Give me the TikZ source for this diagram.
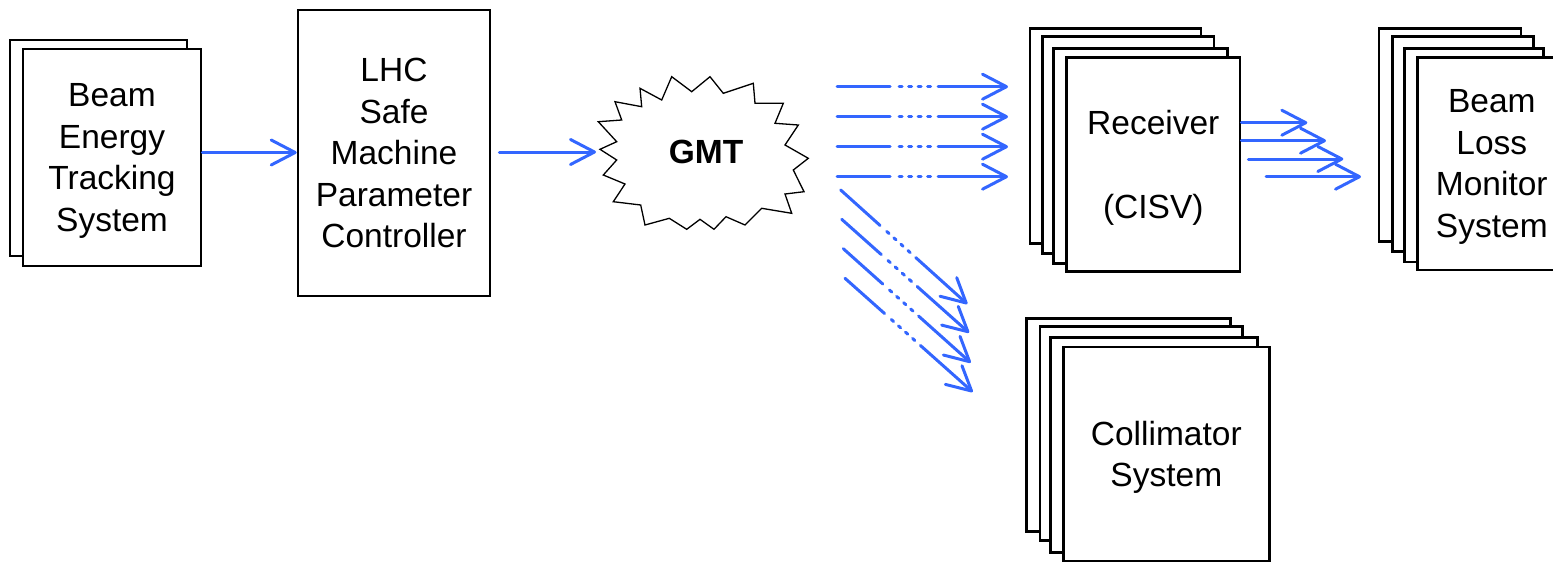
\documentclass[tikz,border=0pt]{standalone}
\usepackage{fontspec}
\setmainfont{Liberation Sans}
\usetikzlibrary{arrows.meta}
\definecolor{arrowblue}{RGB}{51,102,255}
\begin{document}
\begin{tikzpicture}[x=1pt,y=-1pt,
 card/.style={draw=black, line width=2.6pt, fill=white, inner sep=0pt, align=center,
   text depth=0pt, font=\fontsize{33.5}{41.5}\selectfont},
 flow/.style={draw=arrowblue, line width=3pt, line cap=round,
   -{Straight Barb[length=24pt,width=25pt,round]}},
 dotflow/.style={flow, dash pattern=on 53pt off 9pt on 3pt off 6.5pt on 3pt off 6.5pt on 3pt off 6.5pt on 3pt off 7.5pt on 300pt},
]
\useasboundingbox (0,0) rectangle (1553,563);
\clip (0,0) rectangle (1553,563);

% Beam Energy Tracking System
\node[card, minimum width=177pt, minimum height=216pt] (bets1) at (98.5,148) {};
\node[card, minimum width=178pt, minimum height=217pt] (bets) at (112,157.5) {Beam\\Energy\\Tracking\\System};

% LHC SMPC
\node[card, minimum width=192pt, minimum height=286pt] (lhc) at (394,153) {LHC\\Safe\\Machine\\Parameter\\Controller};

% GMT starburst
\draw[line width=1.3pt, fill=white]
 (600,149.3) -- (616.7,141.7) -- (598.3,121.7) -- (621.7,120) -- (615,101.7) -- (641.7,106.7)
 -- (640,88.3) -- (661.7,100) -- (671.7,76.7) -- (691.7,91.7) -- (710,76.7) -- (723.3,93.3)
 -- (753.3,83.3) -- (755,103.3) -- (783.3,103.3) -- (775,123.3) -- (798.3,125) -- (785,145)
 -- (808.3,158.3) -- (793.3,170) -- (804,191.7) -- (785,194) -- (791.7,213.3) -- (761.7,208.3)
 -- (745,225) -- (726,216.7) -- (714,229.3) -- (700,219.3) -- (686.7,229.3) -- (669.3,218.3)
 -- (645,225) -- (640.7,205) -- (613.3,201.7) -- (625,184) -- (603.3,175) -- (616.7,160) -- cycle;
\node[font=\bfseries\fontsize{33.5}{40}\selectfont, inner sep=0pt] (gmt) at (706,151.5) {GMT};
\coordinate (gmtin) at (596,152);

% Receiver stack
\node[card, minimum width=171pt, minimum height=215pt] (rx1) at (1115.5,135.8) {};
\node[card, minimum width=171.3pt, minimum height=216.6pt] (rx2) at (1128.3,145) {};
\node[card, minimum width=174pt, minimum height=215pt] (rx3) at (1140.3,155.8) {};
\node[card, minimum width=173.3pt, minimum height=214.4pt] (rx) at (1153.3,164.5) {Receiver\\[1.5pt]~\\(CISV)};

% BLM stack
\node[card, minimum width=142pt, minimum height=213.4pt] (bl1) at (1450,135) {};
\node[card, minimum width=141pt, minimum height=215pt] (bl2) at (1462.8,144.2) {};
\node[card, minimum width=139pt, minimum height=213.7pt] (bl3) at (1473.8,155.2) {};
\node[card, minimum width=149pt, minimum height=212.7pt] (blm) at (1491.8,163.7) {Beam\\Loss\\Monitor\\System};

% Collimator stack
\node[card, minimum width=204pt, minimum height=213.4pt] (co1) at (1128.7,425) {};
\node[card, minimum width=202.7pt, minimum height=214pt] (co2) at (1141.3,433.7) {};
\node[card, minimum width=206.6pt, minimum height=215pt] (co3) at (1154,445.2) {};
\node[card, minimum width=206pt, minimum height=214pt] (col) at (1166.3,453.8) {Collimator\\System};

% arrows
\draw[flow] (bets.east |- 0,152.5) -- (lhc.west |- 0,152.5);
\draw[flow] ([shift={(8,-1)}]lhc.east) -- (gmtin);

\foreach \y [count=\i] in {86.7,116.7,146.7,176.7} {
  \coordinate (h\i s) at (837,\y);
  \coordinate (h\i e) at (1008,\y);
  \draw[dotflow] (h\i s) -- (h\i e);
}

\coordinate (d1s) at (840.7,190);   \coordinate (d1e) at (967.3,304);
\coordinate (d2s) at (841.7,219.3); \coordinate (d2e) at (969,332.7);
\coordinate (d3s) at (843.3,248.7); \coordinate (d3e) at (970.7,362.7);
\coordinate (d4s) at (845,278.3);   \coordinate (d4e) at (972.7,392);
\foreach \i in {1,2,3,4} { \draw[dotflow] (d\i s) -- (d\i e); }

\coordinate (r1e) at (1307.3,122.7);
\coordinate (r2e) at (1326,140.7);
\coordinate (r3s) at (1248.3,159);  \coordinate (r3e) at (1343.3,159);
\coordinate (r4s) at (1266,176.7);  \coordinate (r4e) at (1361,176.7);
\draw[flow] (rx.east |- r1e) -- (r1e);
\draw[flow] (rx.east |- r2e) -- (r2e);
\draw[flow] (r3s) -- (r3e);
\draw[flow] (r4s) -- (r4e);
\end{tikzpicture}
\end{document}
